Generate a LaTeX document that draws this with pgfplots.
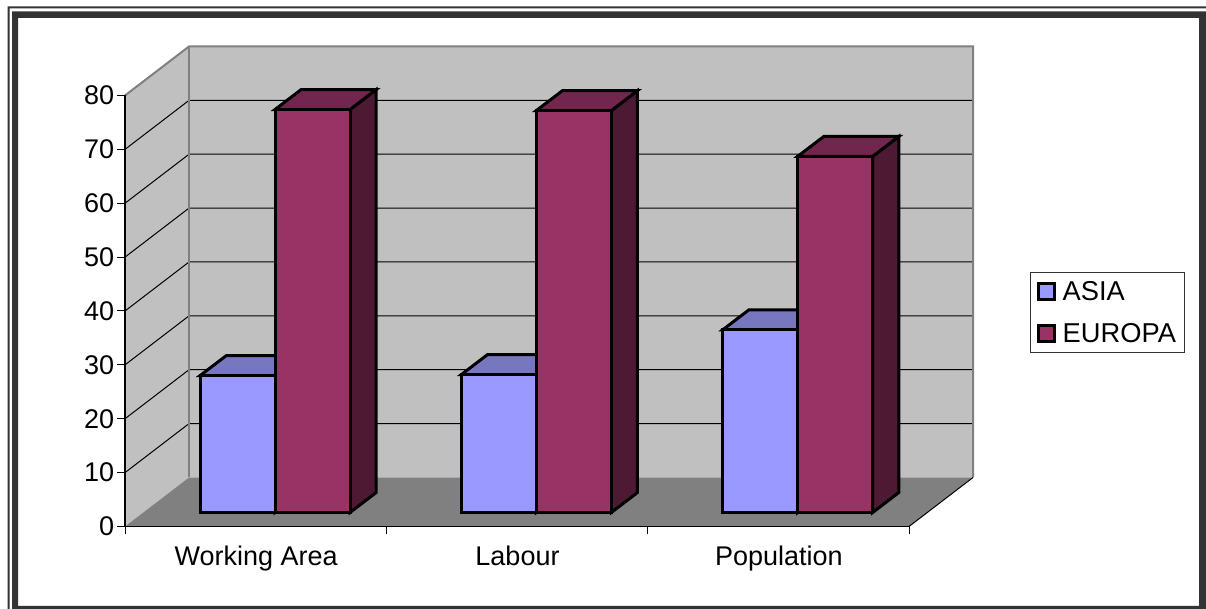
\documentclass[border=0pt]{standalone}
\usepackage{fontspec}
\setmainfont{Liberation Sans}
\usepackage{pgfplots}
\pgfplotsset{compat=1.18}

\definecolor{wallc}{HTML}{C0C0C0}
\definecolor{floorc}{HTML}{808080}
\definecolor{framec}{HTML}{333333}
\definecolor{asiaf}{HTML}{9999FF}
\definecolor{asiat}{HTML}{7777BF}
\definecolor{asias}{HTML}{4D4D80}
\definecolor{eurof}{HTML}{993366}
\definecolor{eurot}{HTML}{73264D}
\definecolor{euros}{HTML}{4D1933}

% one 3d bar: left x, right x, value, front, top and side colours
\newcommand{\threedbar}[6]{%
  \pgfmathsetmacro{\base}{2.6}%
  \pgfmathsetmacro{\topy}{#3+2.6}%
  \pgfmathsetmacro{\bx}{#2+0.1}%
  \pgfmathsetmacro{\lx}{#1+0.1}%
  \pgfmathsetmacro{\topb}{#3+2.6+3.7}%
  \pgfmathsetmacro{\baseb}{2.6+3.7}%
  \addplot[fill=#6,draw=black,line width=3pt] coordinates {(#2,\base)(\bx,\baseb)(\bx,\topb)(#2,\topy)} --cycle;
  \addplot[fill=#5,draw=black,line width=3pt] coordinates {(#1,\topy)(\lx,\topb)(\bx,\topb)(#2,\topy)} --cycle;
  \addplot[fill=#4,draw=black,line width=3pt] coordinates {(#1,\base)(#1,\topy)(#2,\topy)(#2,\base)} --cycle;
}

\begin{document}
\begin{tikzpicture}[x=1pt,y=1pt]
\path[use as bounding box] (0,0) rectangle (1206,609);
\fill[white] (0,0) rectangle (1206,609);
% window frame, thin outer line and thick inner one
\fill[framec] (7.5,0) rectangle (9.5,602) (7.5,600.5) rectangle (1206,602.5);
\fill[framec] (12,0) rectangle (18,597) (12,591) rectangle (1206,597.5) (1199,0) rectangle (1206,597) (12,0) rectangle (1206,3);
\begin{axis}[
    at={(125pt,82.5pt)},
    anchor=south west,
    scale only axis,
    width=784pt,
    height=431pt,
    xmin=0, xmax=3,
    ymin=0, ymax=80,
    clip=false,
    axis on top,
    axis lines=left,
    axis line style={-,line width=1.2pt,black},
    tick align=outside,
    tickwidth=8pt,
    tick style={black,line width=1pt},
    xtick={0,1,2,3},
    xticklabels={Working Area,Labour,Population},
    x tick label as interval,
    x tick label style={yshift=-8pt,xshift=0.5pt},
    y tick label style={xshift=0.7pt},
    ytick={0,10,...,80},
    tick label style={font=\fontsize{27}{30}\selectfont},
    /pgf/number format/assume math mode=true,
    legend style={
        at={(1.1543,0.4965)},
        anchor=west,
        draw=framec,
        line width=1pt,
        font=\fontsize{27.3}{30}\selectfont,
        inner xsep=7pt,
        inner ysep=8pt,
        row sep=19pt,
        nodes={inner sep=1pt},
    },
    legend cell align=left,
    legend image code/.code={
        \path[draw=none,fill=none] (0pt,0pt) -- (23pt,0pt);
        \draw[#1,line width=2.5pt] (0pt,-8pt) rectangle (16pt,8pt);
    },
]
\addlegendimage{fill=asiaf,draw=black}
\addlegendimage{fill=eurof,draw=black}
\legend{ASIA,EUROPA}

% left wall, back wall, floor
\addplot[fill=wallc,draw=none] coordinates {(0,0)(0.245,9.1)(0.245,89.1)(0,80)} --cycle;
\addplot[fill=wallc,draw=none] coordinates {(0.245,9.1)(3.245,9.1)(3.245,89.1)(0.245,89.1)} --cycle;
\addplot[fill=floorc,draw=none] coordinates {(0,0)(3,0)(3.245,9.1)(0.245,9.1)} --cycle;

% grid lines, up the left wall and along the back
\addplot[black,line width=1pt] coordinates {(0,10)(0.245,19.1)(3.245,19.1)};
\addplot[black,line width=1pt] coordinates {(0,20)(0.245,29.1)(3.245,29.1)};
\addplot[black,line width=1pt] coordinates {(0,30)(0.245,39.1)(3.245,39.1)};
\addplot[black,line width=1pt] coordinates {(0,40)(0.245,49.1)(3.245,49.1)};
\addplot[black,line width=1pt] coordinates {(0,50)(0.245,59.1)(3.245,59.1)};
\addplot[black,line width=1pt] coordinates {(0,60)(0.245,69.1)(3.245,69.1)};
\addplot[black,line width=1pt] coordinates {(0,70)(0.245,79.1)(3.245,79.1)};

% box edges
\addplot[floorc,line width=2.5pt] coordinates {(0.245,9.1)(0.245,89.1)};
\addplot[floorc,line width=2pt] coordinates {(0,80)(0.245,89.1)(3.245,89.1)(3.245,9.1)};
\addplot[black,line width=1pt] coordinates {(3,0)(3.245,9.1)};

% bars
\threedbar{0.287}{0.574}{25.4}{asiaf}{asiat}{asias}
\threedbar{0.574}{0.861}{74.8}{eurof}{eurot}{euros}
\threedbar{1.287}{1.574}{25.6}{asiaf}{asiat}{asias}
\threedbar{1.574}{1.861}{74.6}{eurof}{eurot}{euros}
\threedbar{2.287}{2.574}{33.9}{asiaf}{asiat}{asias}
\threedbar{2.574}{2.861}{66.1}{eurof}{eurot}{euros}
\end{axis}
\end{tikzpicture}
\end{document}
